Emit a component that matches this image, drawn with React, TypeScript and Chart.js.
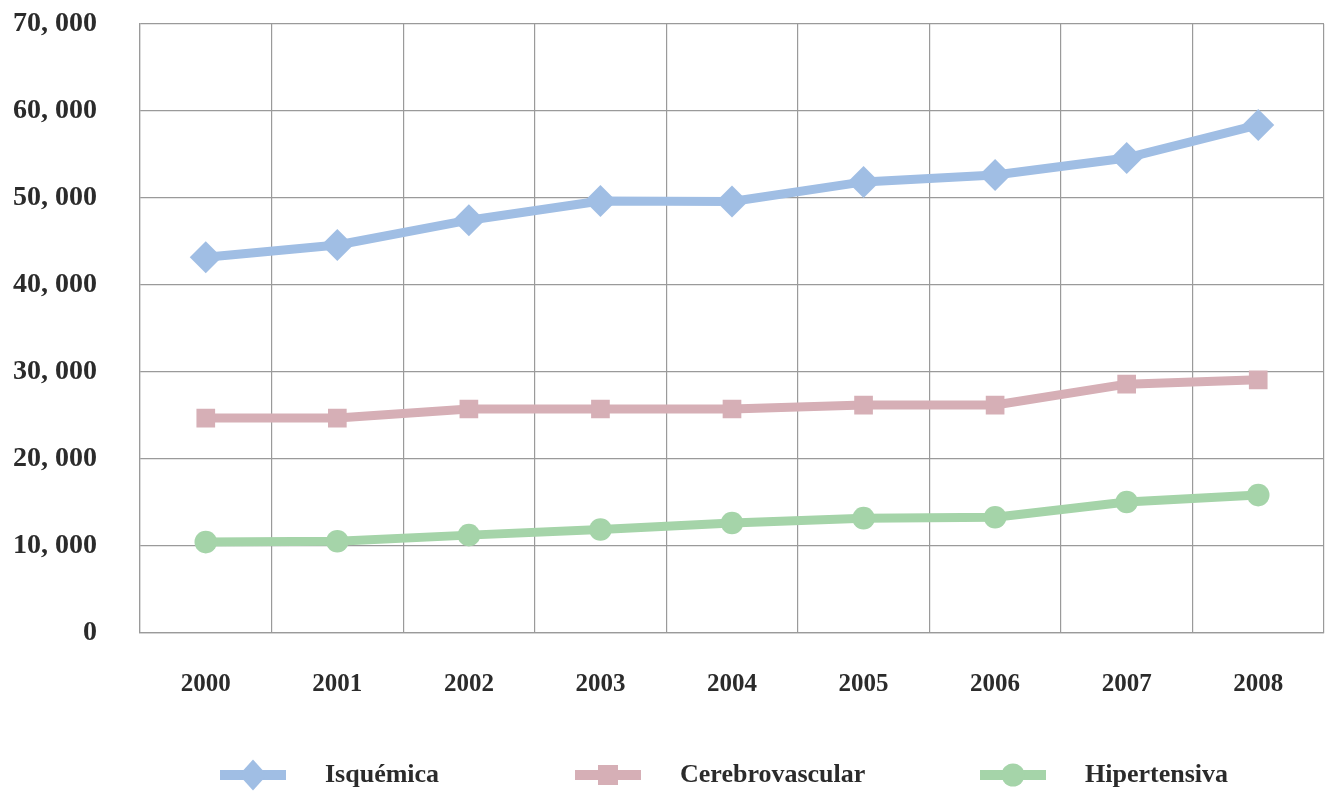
import { useEffect, useRef } from 'react';
import { Chart, registerables } from 'chart.js';

Chart.register(...registerables);

const years = ['2000', '2001', '2002', '2003', '2004', '2005', '2006', '2007', '2008'];
const isquemica = [43200, 44600, 47450, 49650, 49600, 51850, 52650, 54600, 58400];
const cerebrovascular = [24700, 24700, 25750, 25750, 25750, 26200, 26200, 28600, 29100];
const hipertensiva = [10450, 10550, 11250, 11900, 12650, 13200, 13300, 15050, 15850];
const seriesNames = ['Isquémica', 'Cerebrovascular', 'Hipertensiva'];

const BLUE = 'rgb(160,190,228)';
const PINK = 'rgb(214,175,182)';
const GREEN = 'rgb(165,212,169)';
const TEXT = '#2b2b2b';
const GRID = '#9a9a9a';
const SERIF = '"Liberation Serif", "DejaVu Serif", serif';

const legendLineStart = [220, 575, 980];

const legendPlugin = {
  id: 'slotLegend',
  afterDraw(chart: any) {
    const ctx = chart.ctx as CanvasRenderingContext2D;
    const y = 775;
    chart.data.datasets.forEach((ds: any, i: number) => {
      const x0 = legendLineStart[i];
      const cx = x0 + 33;
      ctx.save();
      ctx.strokeStyle = ds.borderColor;
      ctx.fillStyle = ds.borderColor;
      ctx.lineWidth = 10;
      ctx.lineCap = 'butt';
      ctx.beginPath();
      ctx.moveTo(x0, y);
      ctx.lineTo(x0 + 66, y);
      ctx.stroke();
      ctx.beginPath();
      if (ds.pointStyle === 'rectRot') {
        ctx.moveTo(cx, y - 15.5);
        ctx.lineTo(cx + 14, y);
        ctx.lineTo(cx, y + 15.5);
        ctx.lineTo(cx - 14, y);
        ctx.closePath();
      } else if (ds.pointStyle === 'rect') {
        ctx.rect(cx - 10, y - 10, 20, 20);
      } else {
        ctx.arc(cx, y, 11.5, 0, Math.PI * 2);
      }
      ctx.fill();
      ctx.fillStyle = TEXT;
      ctx.font = `bold 26px ${SERIF}`;
      ctx.textBaseline = 'middle';
      ctx.textAlign = 'left';
      ctx.fillText(ds.label, x0 + 105, y);
      ctx.restore();
    });
  },
};

export default function App() {
  const canvasRef = useRef<HTMLCanvasElement | null>(null);

  useEffect(() => {
    document.body.style.margin = '0';
    document.body.style.overflow = 'hidden';
    const canvas = canvasRef.current;
    if (!canvas) return;
    const common = {
      borderWidth: 9,
      tension: 0,
      pointBorderWidth: 0,
      borderCapStyle: 'round' as const,
      borderJoinStyle: 'round' as const,
    };
    const chart = new Chart(canvas, {
      type: 'line',
      data: {
        labels: years,
        datasets: [
          {
            ...common,
            label: seriesNames[0],
            data: isquemica,
            borderColor: BLUE,
            backgroundColor: BLUE,
            pointBackgroundColor: BLUE,
            pointStyle: 'rectRot',
            pointRadius: 16,
          },
          {
            ...common,
            label: seriesNames[1],
            data: cerebrovascular,
            borderColor: PINK,
            backgroundColor: PINK,
            pointBackgroundColor: PINK,
            pointStyle: 'rect',
            pointRadius: 13.2,
          },
          {
            ...common,
            label: seriesNames[2],
            data: hipertensiva,
            borderColor: GREEN,
            backgroundColor: GREEN,
            pointBackgroundColor: GREEN,
            pointStyle: 'circle',
            pointRadius: 11.3,
          },
        ],
      },
      options: {
        animation: false,
        responsive: false,
        devicePixelRatio: 1,
        layout: { autoPadding: false, padding: { top: 24, right: 3, left: 0, bottom: 0 } },
        plugins: {
          legend: { display: false },
          tooltip: { enabled: false },
        },
        scales: {
          x: {
            offset: true,
            grid: { offset: true, color: GRID, lineWidth: 1.2, drawTicks: false },
            border: { display: true, color: GRID, width: 1.2 },
            ticks: {
              padding: 37,
              color: TEXT,
              font: { family: SERIF, size: 25, weight: 'bold' },
            },
            afterFit: (scale: any) => {
              scale.height = 160;
              scale.paddingLeft = 0;
              scale.paddingRight = 0;
            },
          },
          y: {
            min: 0,
            max: 70000,
            grid: { color: GRID, lineWidth: 1.2, drawTicks: false },
            border: { display: true, color: GRID, width: 1.2 },
            ticks: {
              stepSize: 10000,
              padding: 43,
              color: TEXT,
              font: { family: SERIF, size: 28, weight: 'bold' },
              callback: (v: any) => (Number(v) === 0 ? '0' : `${Number(v) / 1000}, 000`),
            },
            afterFit: (scale: any) => {
              scale.width = 140;
              scale.paddingTop = 0;
              scale.paddingBottom = 0;
              scale.paddingLeft = 0;
              scale.paddingRight = 0;
            },
          },
        },
      },
      plugins: [legendPlugin],
    });
    return () => chart.destroy();
  }, []);

  return (
    <div style={{ width: 1327, height: 793, position: 'relative', background: '#fff', overflow: 'hidden' }}>
      <canvas ref={canvasRef} width={1327} height={793} style={{ display: 'block', width: 1327, height: 793 }} />
    </div>
  );
}
